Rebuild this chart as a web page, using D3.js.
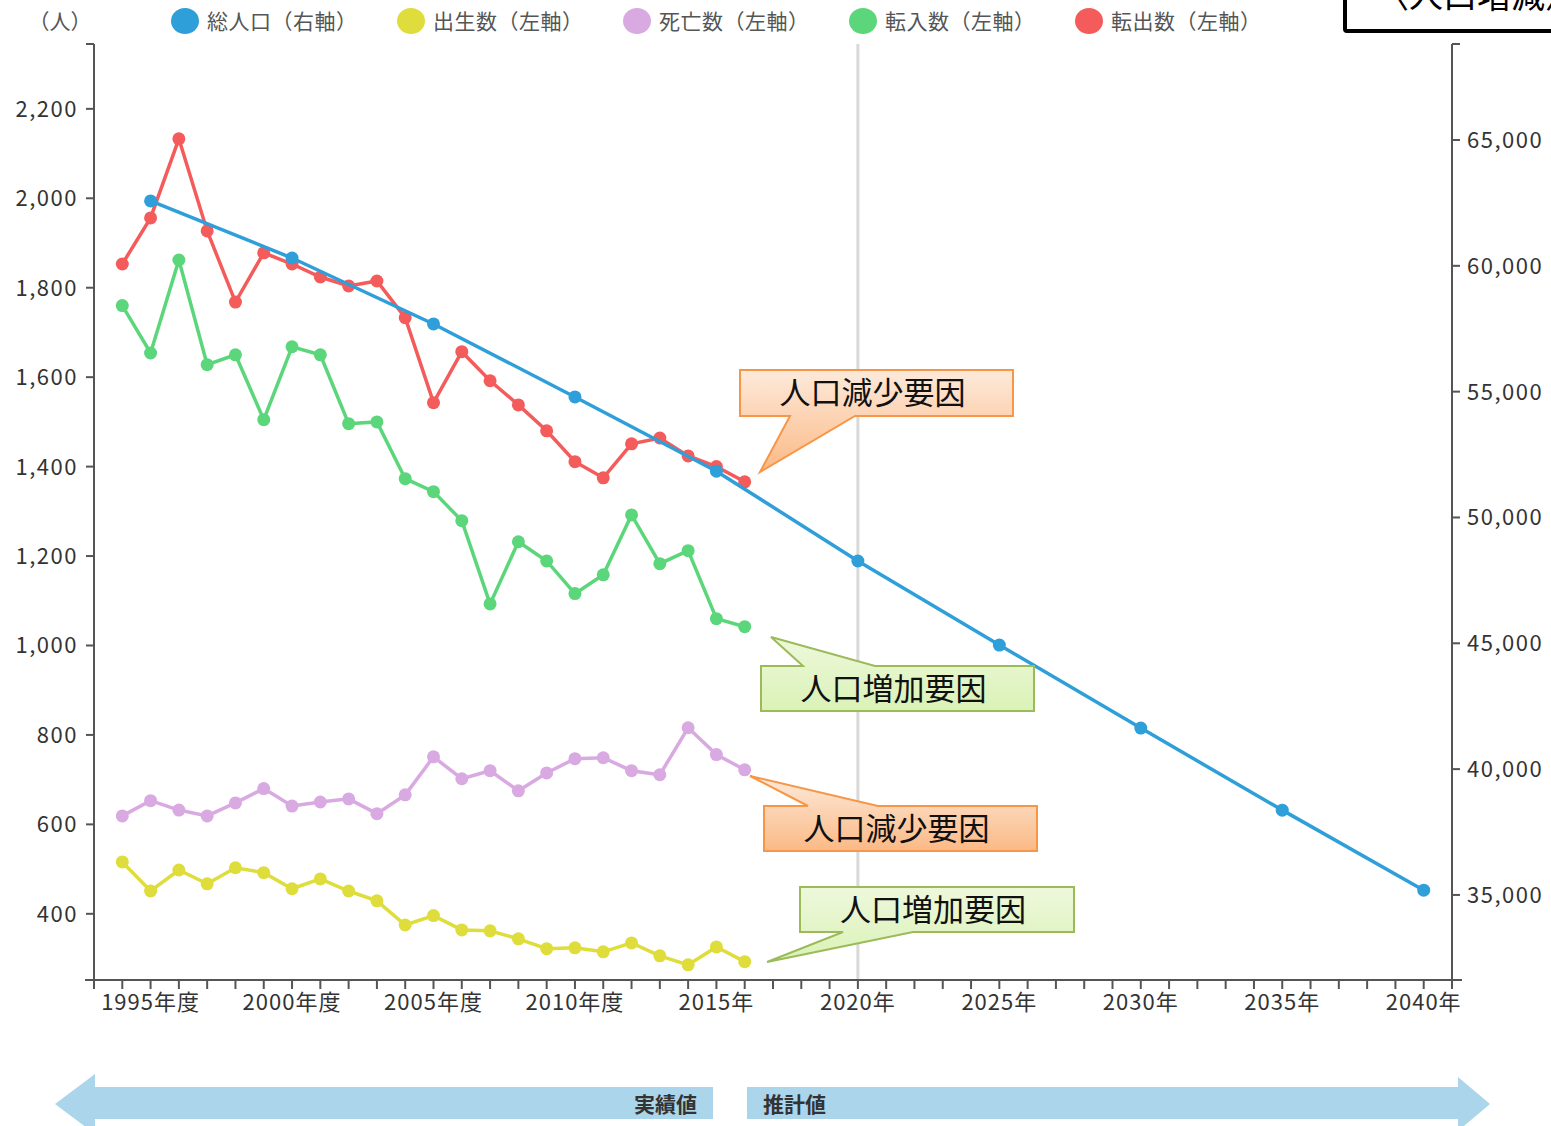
<!DOCTYPE html>
<html>
<head>
<meta charset="utf-8">
<script src="https://cdn.jsdelivr.net/npm/d3@7"></script>
<style>
  body { margin: 0; background: #fff; }
  text { font-family: "Noto Sans CJK JP", "Noto Sans", sans-serif; }
</style>
</head>
<body>
<div id="root"></div>
<script>
var w = 1551, h = 1126;

// 実績値 (年度)
var years = d3.range(1994, 2017);
var tenshutsu = [1853, 1956, 2133, 1927, 1768, 1878, 1853, 1824, 1804, 1815, 1733, 1543, 1657, 1592, 1538, 1480, 1411, 1375, 1451, 1464, 1424, 1400, 1366];
var tennyu = [1760, 1654, 1862, 1628, 1650, 1505, 1668, 1650, 1496, 1500, 1373, 1344, 1279, 1093, 1232, 1189, 1116, 1158, 1292, 1183, 1212, 1060, 1042];
var shibou = [619, 653, 632, 619, 648, 680, 641, 650, 657, 624, 666, 751, 702, 720, 675, 715, 747, 749, 720, 711, 816, 756, 722];
var shussei = [516, 451, 498, 467, 503, 492, 456, 478, 451, 429, 375, 396, 364, 362, 344, 322, 324, 315, 335, 306, 286, 326, 293];

// 総人口 (右軸)
var popYears = [1995, 2000, 2005, 2010, 2015, 2020, 2025, 2030, 2035, 2040];
var population = [62580, 60310, 57690, 54790, 51840, 48270, 44930, 41630, 38370, 35190];

var leftTicks = [400, 600, 800, 1000, 1200, 1400, 1600, 1800, 2000, 2200];
var rightTicks = [35000, 40000, 45000, 50000, 55000, 60000, 65000];
var labelYears = [1995, 2000, 2005, 2010, 2015, 2020, 2025, 2030, 2035, 2040];

var legendNames = ['総人口（右軸）', '出生数（左軸）', '死亡数（左軸）', '転入数（左軸）', '転出数（左軸）'];
var colors = ['#2f9fd9', '#dedd3c', '#d9a9e2', '#5bd67a', '#f45b5b'];

var svg = d3.select('#root').append('svg').attr('width', w).attr('height', h);

var x = d3.scaleLinear().domain([1993, 2041]).range([94, 1452]);
var yL = d3.scaleLinear().domain([252, 2345]).range([980, 44]);
var yR = d3.scaleLinear().domain([31620, 68815]).range([980, 44]);

// 2020 divider
svg.append('line')
    .attr('x1', x(2020)).attr('x2', x(2020))
    .attr('y1', 44).attr('y2', 980)
    .attr('stroke', '#d9d9d9').attr('stroke-width', 3);

// axes
var axisColor = '#555';
var gx = svg.append('g').attr('transform', 'translate(0,980)');
gx.append('line').attr('x1', 85).attr('x2', 1462).attr('stroke', axisColor).attr('stroke-width', 2);
gx.selectAll('.tk').data(d3.range(1993, 2042)).enter().append('line')
    .attr('x1', function (d) { return x(d); }).attr('x2', function (d) { return x(d); })
    .attr('y1', 0).attr('y2', 9)
    .attr('stroke', axisColor).attr('stroke-width', 2);
gx.selectAll('text').data(labelYears).enter().append('text')
    .attr('x', function (d) { return x(d); })
    .attr('y', 30)
    .attr('text-anchor', 'middle')
    .attr('font-size', 22).attr('letter-spacing', 1).attr('fill', '#333')
    .text(function (d) { return d + (d <= 2010 ? '年度' : '年'); });

var gl = svg.append('g').attr('transform', 'translate(94,0)');
gl.append('line').attr('y1', 44).attr('y2', 980).attr('stroke', axisColor).attr('stroke-width', 2);
gl.append('line').attr('x1', -8).attr('x2', 0).attr('y1', 44).attr('y2', 44).attr('stroke', axisColor).attr('stroke-width', 2);
gl.selectAll('.tk').data(leftTicks).enter().append('line')
    .attr('x1', -8).attr('x2', 0)
    .attr('y1', function (d) { return yL(d); }).attr('y2', function (d) { return yL(d); })
    .attr('stroke', axisColor).attr('stroke-width', 2);
gl.selectAll('text').data(leftTicks).enter().append('text')
    .attr('x', -16).attr('y', function (d) { return yL(d) + 8; })
    .attr('text-anchor', 'end').attr('font-size', 22).attr('letter-spacing', 1.5).attr('fill', '#333')
    .text(function (d) { return d3.format(',')(d); });

var gr = svg.append('g').attr('transform', 'translate(1452,0)');
gr.append('line').attr('y1', 44).attr('y2', 980).attr('stroke', axisColor).attr('stroke-width', 2);
gr.append('line').attr('x1', 0).attr('x2', 8).attr('y1', 44).attr('y2', 44).attr('stroke', axisColor).attr('stroke-width', 2);
gr.selectAll('.tk').data(rightTicks).enter().append('line')
    .attr('x1', 0).attr('x2', 8)
    .attr('y1', function (d) { return yR(d); }).attr('y2', function (d) { return yR(d); })
    .attr('stroke', axisColor).attr('stroke-width', 2);
gr.selectAll('text').data(rightTicks).enter().append('text')
    .attr('x', 15).attr('y', function (d) { return yR(d) + 8; })
    .attr('font-size', 22).attr('letter-spacing', 1.5).attr('fill', '#333')
    .text(function (d) { return d3.format(',')(d); });

svg.append('text').attr('x', 60).attr('y', 29).attr('text-anchor', 'middle')
    .attr('font-size', 21).attr('fill', '#555').text('（人）');

// legend
var lg = svg.selectAll('.lg').data(legendNames).enter().append('g')
    .attr('transform', function (d, i) { return 'translate(' + (185 + i * 226) + ',21)'; });
lg.append('ellipse').attr('rx', 14).attr('ry', 13).attr('fill', function (d, i) { return colors[i]; });
lg.append('text').attr('x', 22).attr('y', 8).attr('font-size', 21).attr('letter-spacing', 0.5).attr('fill', '#555')
    .text(function (d) { return d; });

// series
var series = [
    { vals: shussei, color: colors[1] },
    { vals: shibou, color: colors[2] },
    { vals: tennyu, color: colors[3] },
    { vals: tenshutsu, color: colors[4] }
];
series.forEach(function (s) {
    var pts = years.map(function (yr, i) { return [x(yr), yL(s.vals[i])]; });
    svg.append('path').attr('d', d3.line()(pts))
        .attr('fill', 'none').attr('stroke', s.color).attr('stroke-width', 3.5);
    svg.append('g').selectAll('circle').data(pts).enter().append('circle')
        .attr('cx', function (d) { return d[0]; }).attr('cy', function (d) { return d[1]; })
        .attr('r', 6.5).attr('fill', s.color);
});
var popPts = popYears.map(function (yr, i) { return [x(yr), yR(population[i])]; });
svg.append('path').attr('d', d3.line()(popPts))
    .attr('fill', 'none').attr('stroke', colors[0]).attr('stroke-width', 3.5);
svg.append('g').selectAll('circle').data(popPts).enter().append('circle')
    .attr('cx', function (d) { return d[0]; }).attr('cy', function (d) { return d[1]; })
    .attr('r', 6.5).attr('fill', colors[0]);

// callouts
var defs = svg.append('defs');
var go = defs.append('linearGradient').attr('id', 'gOrange').attr('x1', 0).attr('y1', 0).attr('x2', 0).attr('y2', 1);
go.append('stop').attr('offset', 0).attr('stop-color', '#fdeadb');
go.append('stop').attr('offset', 1).attr('stop-color', '#fbb985');
var gg = defs.append('linearGradient').attr('id', 'gGreen').attr('x1', 0).attr('y1', 0).attr('x2', 0).attr('y2', 1);
gg.append('stop').attr('offset', 0).attr('stop-color', '#eef8dc');
gg.append('stop').attr('offset', 1).attr('stop-color', '#daf2b6');

var callouts = [
    { text: '人口減少要因', x0: 740, y0: 370, x1: 1013, y1: 416, tip: [760, 472], b0: 790, b1: 855, side: 'bottom', kind: 'o' },
    { text: '人口増加要因', x0: 761, y0: 666, x1: 1034, y1: 711, tip: [771, 637], b0: 803, b1: 875, side: 'top', kind: 'g' },
    { text: '人口減少要因', x0: 764, y0: 806, x1: 1037, y1: 851, tip: [750, 776], b0: 808, b1: 878, side: 'top', kind: 'o' },
    { text: '人口増加要因', x0: 800, y0: 887, x1: 1074, y1: 932, tip: [767, 962], b0: 843, b1: 913, side: 'bottom', kind: 'g' }
];
callouts.forEach(function (c) {
    var p = d3.path();
    p.moveTo(c.x0, c.y0);
    if (c.side === 'top') {
        p.lineTo(c.b0, c.y0); p.lineTo(c.tip[0], c.tip[1]); p.lineTo(c.b1, c.y0);
    }
    p.lineTo(c.x1, c.y0); p.lineTo(c.x1, c.y1);
    if (c.side === 'bottom') {
        p.lineTo(c.b1, c.y1); p.lineTo(c.tip[0], c.tip[1]); p.lineTo(c.b0, c.y1);
    }
    p.lineTo(c.x0, c.y1); p.closePath();
    svg.append('path').attr('d', p.toString())
        .attr('fill', c.kind === 'o' ? 'url(#gOrange)' : 'url(#gGreen)')
        .attr('stroke', c.kind === 'o' ? '#f79646' : '#9bbb59')
        .attr('stroke-width', 2).attr('stroke-linejoin', 'miter');
    svg.append('text').attr('x', (c.x0 + c.x1) / 2 - 4).attr('y', (c.y0 + c.y1) / 2 + 11)
        .attr('text-anchor', 'middle').attr('font-size', 31).attr('fill', '#111')
        .text(c.text);
});

// bottom arrows
svg.append('path').attr('d', 'M55,1104 L95,1074 L95,1087 L713,1087 L713,1119 L95,1119 L95,1134 Z').attr('fill', '#abd5ea');
svg.append('text').attr('x', 697).attr('y', 1112).attr('text-anchor', 'end')
    .attr('font-size', 21).attr('font-weight', 'bold').attr('fill', '#333').text('実績値');
svg.append('path').attr('d', 'M747,1087 L1458,1087 L1458,1077 L1490,1104 L1458,1131 L1458,1119 L747,1119 Z').attr('fill', '#abd5ea');
svg.append('text').attr('x', 763).attr('y', 1112)
    .attr('font-size', 21).attr('font-weight', 'bold').attr('fill', '#333').text('推計値');

// clipped title box (top right)
svg.append('rect').attr('x', 1345).attr('y', -10).attr('width', 230).attr('height', 41)
    .attr('fill', '#fff').attr('stroke', '#000').attr('stroke-width', 4).attr('rx', 2);
svg.append('text').attr('x', 1375).attr('y', 8).attr('font-size', 34).attr('fill', '#000').text('〈人口増減〉');
</script>
</body>
</html>
